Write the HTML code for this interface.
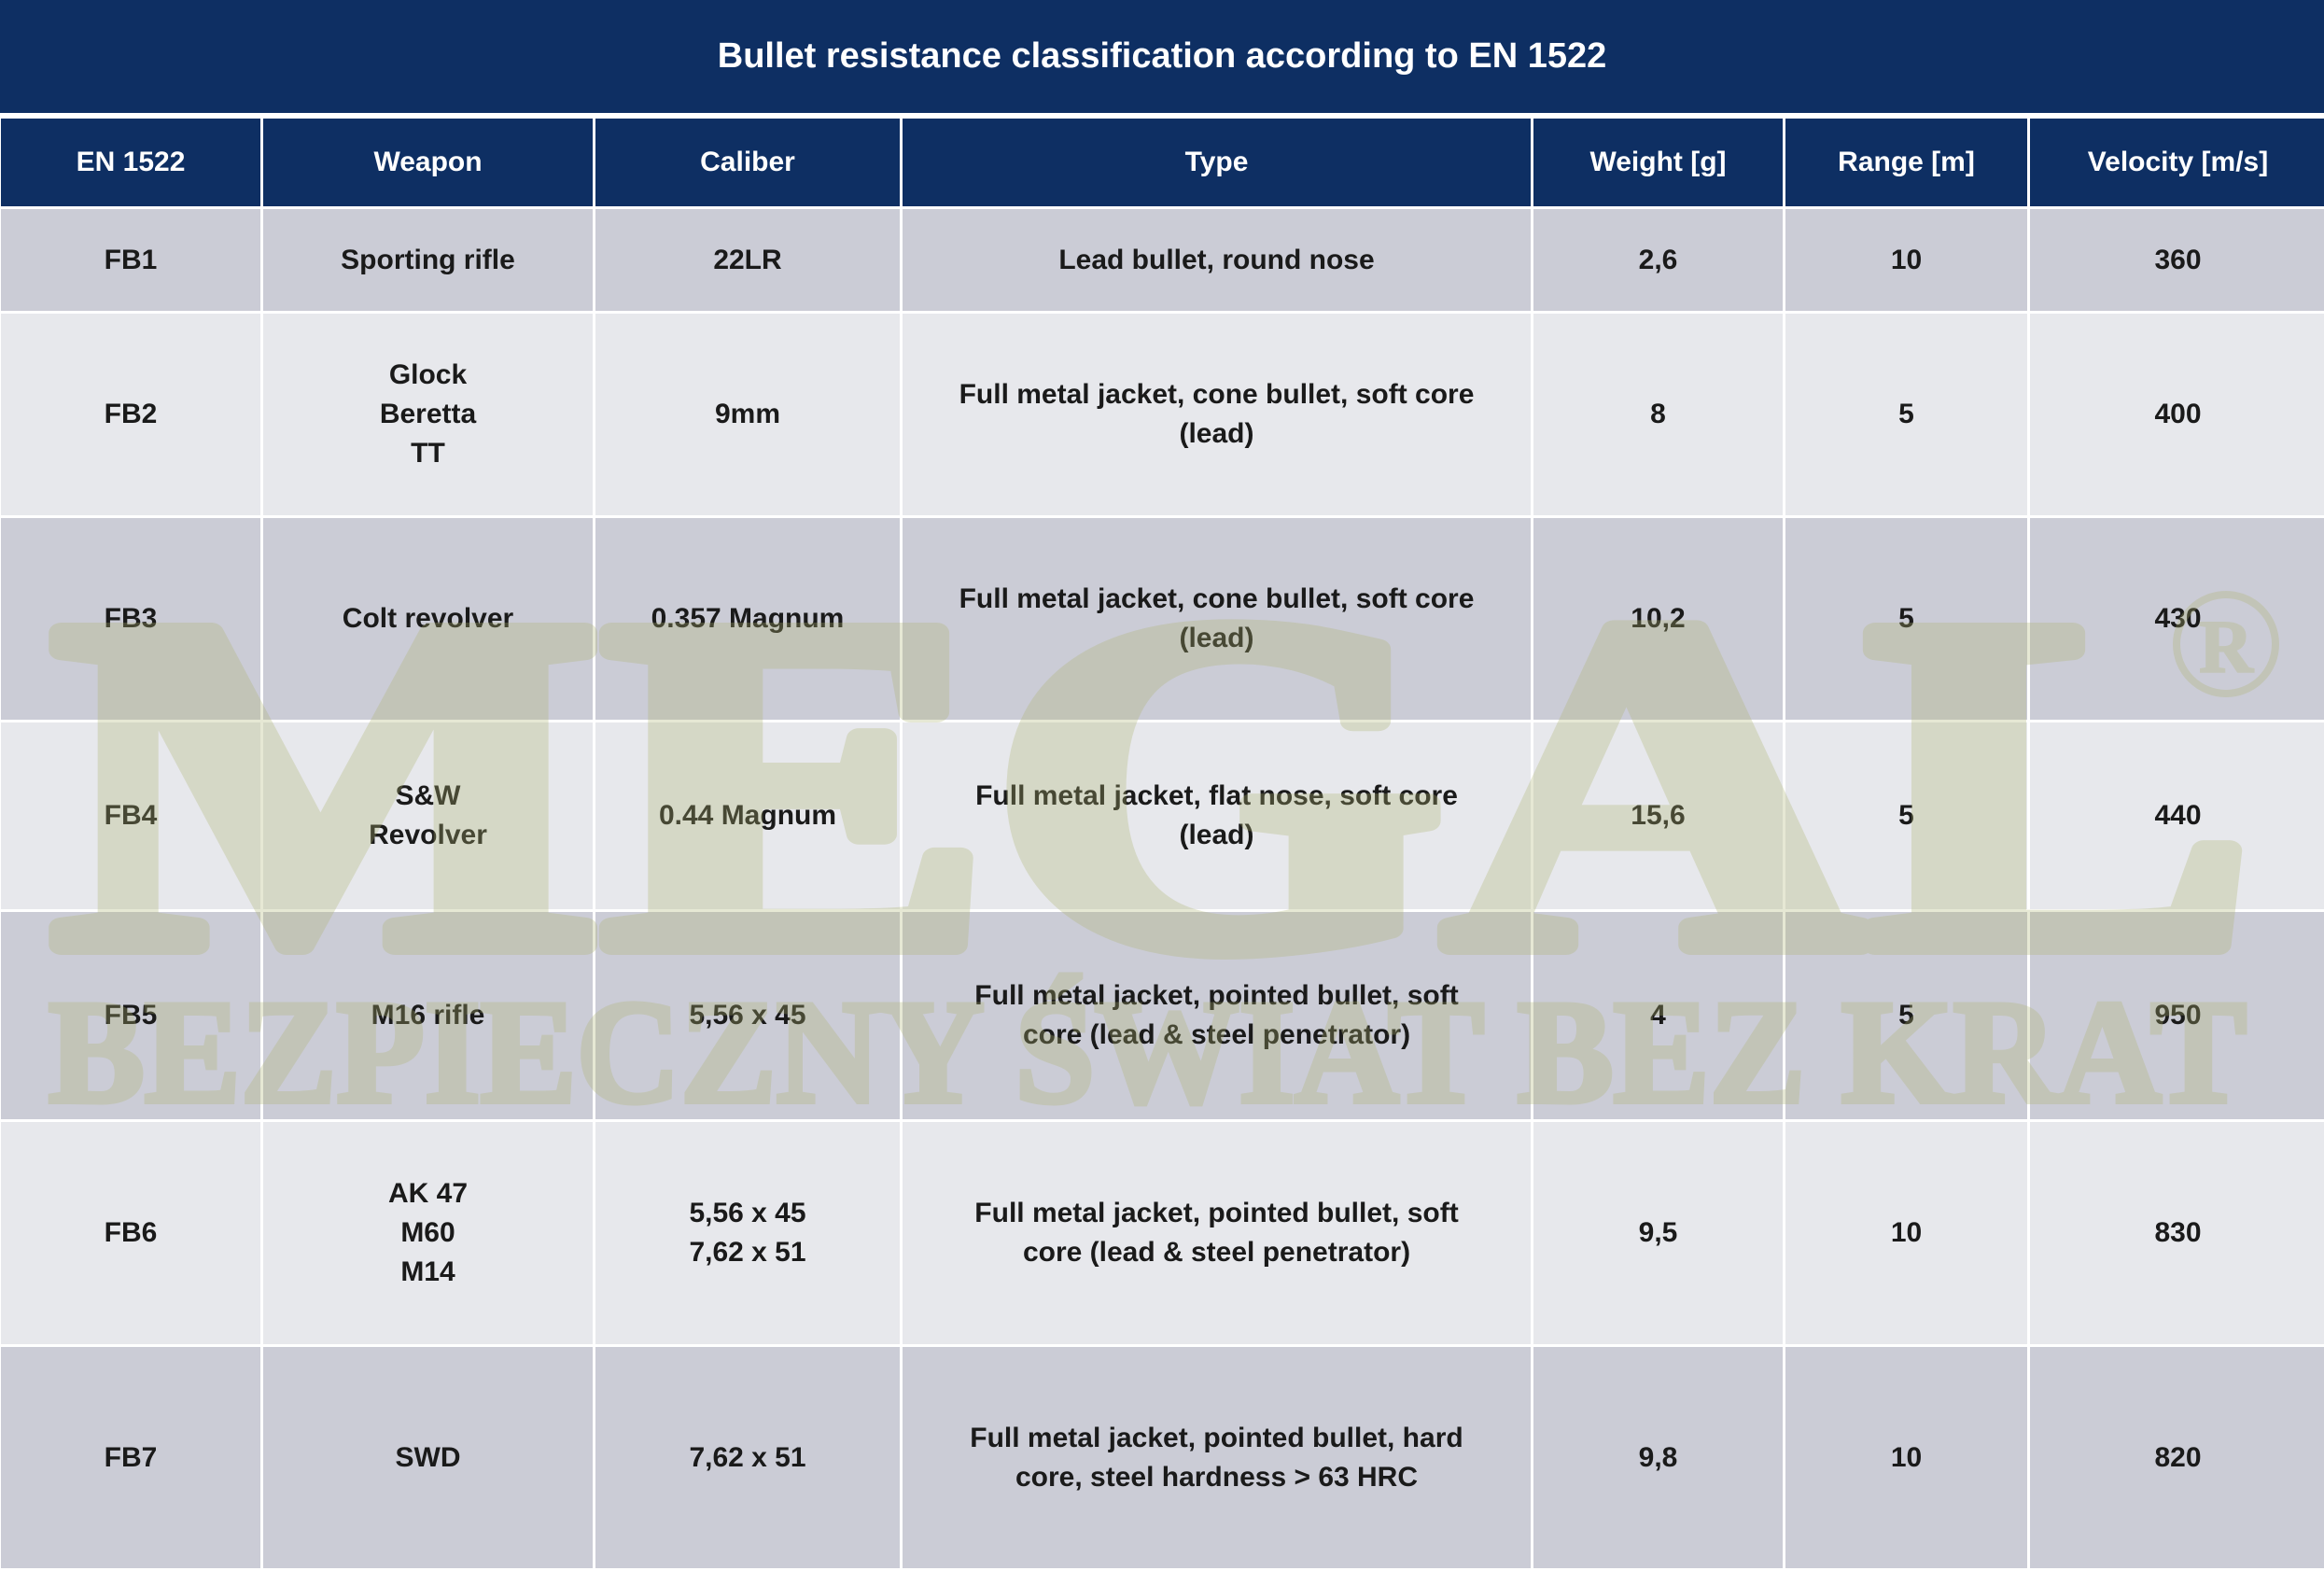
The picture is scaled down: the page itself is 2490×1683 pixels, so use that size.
<!DOCTYPE html>
<html><head><meta charset="utf-8"><style>
html,body{margin:0;padding:0;width:2490px;height:1674px;overflow:hidden;background:#fff;font-family:"Liberation Sans",sans-serif;}
.title{position:absolute;left:0;top:0;width:2490px;height:121px;background:#0e2f63;color:#fff;font-weight:bold;font-size:38px;display:flex;align-items:center;justify-content:center;}
table{position:absolute;left:-2px;top:124px;width:2494px;border-collapse:collapse;table-layout:fixed;}
td{border:3px solid #fff;text-align:center;vertical-align:middle;font-weight:bold;font-size:30px;line-height:42px;color:#1a1a1a;padding:0 10px;}
tr.h td{background:#0e2f63;color:#fff;font-size:30px;}
tr.d td{background:#cbccd6;}
tr.l td{background:#e7e8ec;}
svg{position:absolute;left:0;top:0;pointer-events:none;}
</style></head><body>
<div class="title">Bullet resistance classification according to EN 1522</div>
<table>
<colgroup><col style="width:281px"><col style="width:356px"><col style="width:329px"><col style="width:676px"><col style="width:270px"><col style="width:262px"><col style="width:320px"></colgroup>
<tr class="h" style="height:97px"><td>EN 1522</td><td>Weapon</td><td>Caliber</td><td>Type</td><td>Weight [g]</td><td>Range [m]</td><td>Velocity [m/s]</td></tr>
<tr class="d" style="height:112px"><td>FB1</td><td>Sporting rifle</td><td>22LR</td><td>Lead bullet, round nose</td><td>2,6</td><td>10</td><td>360</td></tr>
<tr class="l" style="height:219px"><td>FB2</td><td>Glock<br>Beretta<br>TT</td><td>9mm</td><td>Full metal jacket, cone bullet, soft core<br>(lead)</td><td>8</td><td>5</td><td>400</td></tr>
<tr class="d" style="height:219px"><td>FB3</td><td>Colt revolver</td><td>0.357 Magnum</td><td>Full metal jacket, cone bullet, soft core<br>(lead)</td><td>10,2</td><td>5</td><td>430</td></tr>
<tr class="l" style="height:203px"><td>FB4</td><td>S&amp;W<br>Revolver</td><td>0.44 Magnum</td><td>Full metal jacket, flat nose, soft core<br>(lead)</td><td>15,6</td><td>5</td><td>440</td></tr>
<tr class="d" style="height:225px"><td>FB5</td><td>M16 rifle</td><td>5,56 x 45</td><td>Full metal jacket, pointed bullet, soft<br>core (lead &amp; steel penetrator)</td><td>4</td><td>5</td><td>950</td></tr>
<tr class="l" style="height:241px"><td>FB6</td><td>AK 47<br>M60<br>M14</td><td>5,56 x 45<br>7,62 x 51</td><td>Full metal jacket, pointed bullet, soft<br>core (lead &amp; steel penetrator)</td><td>9,5</td><td>10</td><td>830</td></tr>
<tr class="d" style="height:240px"><td>FB7</td><td>SWD</td><td>7,62 x 51</td><td>Full metal jacket, pointed bullet, hard<br>core, steel hardness &gt; 63 HRC</td><td>9,8</td><td>10</td><td>820</td></tr>
</table>
<svg width="2490" height="1674" viewBox="0 0 2490 1674">
<g opacity="0.3" fill="#aeb472" stroke="#aeb472" font-family="Liberation Serif, serif" font-weight="bold">
<text x="55" y="1012" font-size="510" stroke-width="22" stroke-linejoin="round" textLength="2360" lengthAdjust="spacingAndGlyphs">MEGAL</text>
<text x="52" y="1180" font-size="158" stroke-width="6" textLength="2355" lengthAdjust="spacingAndGlyphs">BEZPIECZNY ŚWIAT BEZ KRAT</text>
<circle cx="2385" cy="690" r="53" fill="none" stroke-width="8"/>
<text x="2385" y="720" font-size="80" stroke-width="2" text-anchor="middle">R</text>
</g>
</svg>
</body></html>
